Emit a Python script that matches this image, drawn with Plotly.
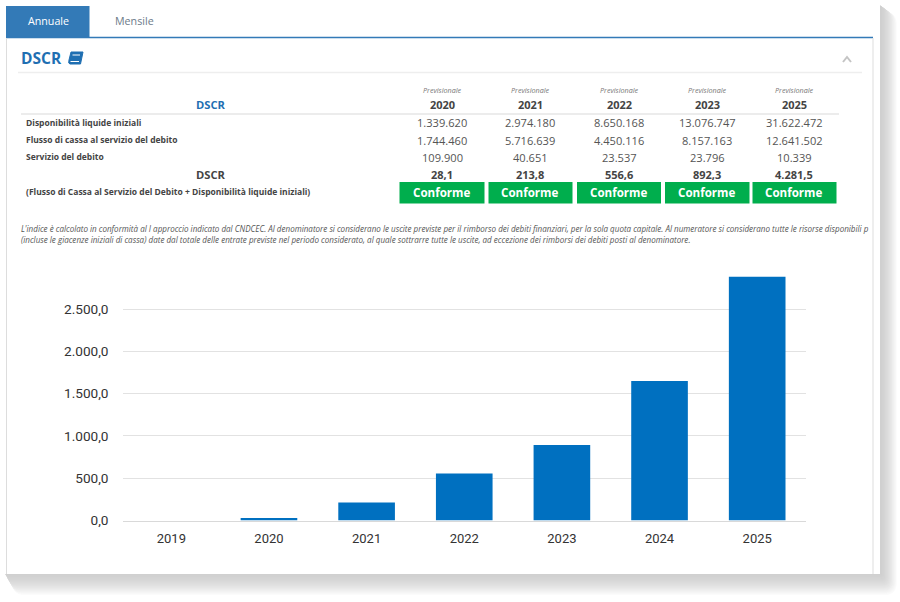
import plotly.graph_objects as go

W = 900
H = 602

# grafico
anni_grafico = ["2019", "2020", "2021", "2022", "2023", "2024", "2025"]
dscr_grafico = [0, 28.1, 213.8, 556.6, 892.3, 1650, 2880]

# tabella
anni_tabella = ["2020", "2021", "2022", "2023", "2025"]
disponibilita = ["1.339.620", "2.974.180", "8.650.168", "13.076.747", "31.622.472"]
flusso = ["1.744.460", "5.716.639", "4.450.116", "8.157.163", "12.641.502"]
servizio = ["109.900", "40.651", "23.537", "23.796", "10.339"]
dscr_tabella = ["28,1", "213,8", "556,6", "892,3", "4.281,5"]

nota_1 = ("L'indice è calcolato in conformità al I approccio indicato dal CNDCEC. Al denominatore si considerano "
          "le uscite previste per il rimborso dei debiti finanziari, per la sola quota capitale. Al numeratore si "
          "considerano tutte le risorse disponibili p")
nota_2 = ("(incluse le giacenze iniziali di cassa) date dal totale delle entrate previste nel periodo considerato, "
          "al quale sottrarre tutte le uscite, ad eccezione dei rimborsi dei debiti posti al denominatore.")

centri = [442, 530, 619, 707, 794]
box_x = [(399.5, 484.5), (488.5, 572.5), (577, 661), (665, 749.5), (752.5, 836.5)]

BLU = "#0070c0"
BLU_TAB = "#337ab7"
BLU_TITOLO = "#1f6fb2"
VERDE = "#00ae4d"
FONT = "Open Sans"


def px(x):
    return x / W


def py(y):
    return 1 - y / H


shapes = []
annotations = []


def rect(x0, y0, x1, y1, colore):
    shapes.append(dict(type="rect", xref="paper", yref="paper", x0=px(x0), x1=px(x1), y0=py(y0), y1=py(y1),
                       fillcolor=colore, line=dict(width=0), layer="below"))


def linea(x0, y0, x1, y1, colore, spessore=1):
    shapes.append(dict(type="line", xref="paper", yref="paper", x0=px(x0), x1=px(x1), y0=py(y0), y1=py(y1),
                       line=dict(color=colore, width=spessore), layer="below"))


def testo(x, y, t, size=11, colore="#555555", anchor="center", bold=False, italic=False, famiglia=FONT):
    # le annotation hanno un piccolo padding interno
    if anchor == "left":
        x = x - 2
    annotations.append(dict(xref="paper", yref="paper", x=px(x), y=py(y), text=t, showarrow=False,
                            xanchor=anchor, yanchor="middle", align=anchor,
                            font=dict(family=famiglia, size=size, color=colore,
                                      weight="bold" if bold else "normal",
                                      style="italic" if italic else "normal")))


def rect_tondo(x0, y0, x1, y1, r, colore):
    shapes.append(dict(type="path", xref="paper", yref="paper", layer="below", fillcolor=colore, line=dict(width=0),
                       path=f"M {px(x0 + r)} {py(y0)} L {px(x1 - r)} {py(y0)} Q {px(x1)} {py(y0)} {px(x1)} {py(y0 + r)} "
                            f"L {px(x1)} {py(y1 - r)} Q {px(x1)} {py(y1)} {px(x1 - r)} {py(y1)} "
                            f"L {px(x0 + r)} {py(y1)} Q {px(x0)} {py(y1)} {px(x0)} {py(y1 - r)} "
                            f"L {px(x0)} {py(y0 + r)} Q {px(x0)} {py(y0)} {px(x0 + r)} {py(y0)} Z"))


# ombra del pannello, dal bordo esterno verso l'interno
for d in range(22, -1, -1):
    v = int(208 + (255 - 208) * (d / 22) ** 1.6)
    rect_tondo(5 + d * 0.35, 5 + d * 0.35, 880 + d * 0.8, 574 + d, d * 0.6, f"rgb({v},{v},{v})")
rect(6, 0, 880, 574, "white")
rect(0, 0, 6, 574, "white")

# tab
rect(6, 6, 89.5, 37, BLU_TAB)
linea(6, 37.5, 873, 37.5, BLU_TAB, 1.5)
linea(6.5, 38, 6.5, 574, "#dddddd")
linea(873, 38, 873, 574, "#dddddd")
testo(48, 21, "Annuale", 10.7, "white")
testo(134, 21, "Mensile", 10.7, "#6c7a89")

# intestazione DSCR
testo(21, 58, "DSCR", 15.5, BLU_TITOLO, "left", bold=True)
shapes.append(dict(type="path", xref="paper", yref="paper", layer="below",
                   path=f"M {px(71)} {py(52)} L {px(83)} {py(52)} L {px(80.5)} {py(64)} L {px(70)} {py(64)} "
                        f"Q {px(68)} {py(64)} {px(69)} {py(60)} Z",
                   fillcolor=BLU_TITOLO, line=dict(color=BLU_TITOLO, width=1)))
linea(72.5, 55, 80, 55, "white", 1)
linea(70.5, 61.5, 79, 61.5, "white", 1)
linea(18, 72.5, 862, 72.5, "#eeeeee", 1.5)
shapes.append(dict(type="path", xref="paper", yref="paper", layer="below",
                   path=f"M {px(843)} {py(62)} L {px(847)} {py(57)} L {px(851)} {py(62)}",
                   line=dict(color="#c4c4c4", width=2)))

# tabella
testo(211, 105, "DSCR", 11.2, BLU_TITOLO, bold=True)
linea(21, 114, 839, 114, "#e6e6e6", 1.5)
for i, c in enumerate(centri):
    testo(c, 90, "Previsionale", 7.2, "#777777", italic=True)
    testo(c, 105, anni_tabella[i], 11, "#444444", bold=True)
    testo(c, 123, disponibilita[i], 11.1)
    testo(c, 140.5, flusso[i], 11.1)
    testo(c, 157.5, servizio[i], 11.1)
    testo(c, 174.5, dscr_tabella[i], 11, "#444444", bold=True)
    rect(box_x[i][0], 182, box_x[i][1], 203.5, VERDE)
    testo(c, 193, "Conforme", 11.6, "white", bold=True)

testo(26, 122, "Disponibilità liquide iniziali", 8.5, "#444444", "left", bold=True)
testo(26, 139.5, "Flusso di cassa al servizio del debito", 8.5, "#444444", "left", bold=True)
testo(26, 156.5, "Servizio del debito", 8.5, "#444444", "left", bold=True)
testo(211, 174.5, "DSCR", 11.2, "#444444", bold=True)
testo(26, 191.5, "(Flusso di Cassa al Servizio del Debito + Disponibilità liquide iniziali)", 8.5, "#444444",
      "left", bold=True)

testo(21, 228, nota_1, 8.05, "#555555", "left", italic=True)
testo(21, 240, nota_2, 8.05, "#555555", "left", italic=True)

fig = go.Figure()
fig.add_trace(go.Bar(x=anni_grafico, y=dscr_grafico, marker=dict(color=BLU, line=dict(width=0)), width=0.58))

Y_MAX = 2900
y_zero = 520.5
y_top = y_zero - Y_MAX * (42.3 / 500)

fig.update_layout(
    width=W,
    height=H,
    margin=dict(l=0, r=0, t=0, b=0, autoexpand=False),
    paper_bgcolor="white",
    plot_bgcolor="rgba(0,0,0,0)",
    showlegend=False,
    separators=",.",
    shapes=shapes,
    annotations=annotations,
    xaxis=dict(domain=[px(122.5), px(806)], type="category", showgrid=False, ticks="", showline=True,
               linecolor="#d9d9d9", linewidth=1, zeroline=False,
               tickfont=dict(family="Roboto", size=13, color="#333333"), ticklabelstandoff=6),
    yaxis=dict(domain=[py(y_zero), py(y_top)], range=[0, Y_MAX], tick0=0, dtick=500, tickformat=",.1f",
               showgrid=True, gridcolor="#e2e2e2", gridwidth=1, zeroline=False, ticks="",
               tickfont=dict(family="Roboto", size=13.6, color="#333333"), ticklabelstandoff=13),
)

fig.write_html("out.html", config=dict(displayModeBar=False), post_script="document.body.style.margin='0';")
